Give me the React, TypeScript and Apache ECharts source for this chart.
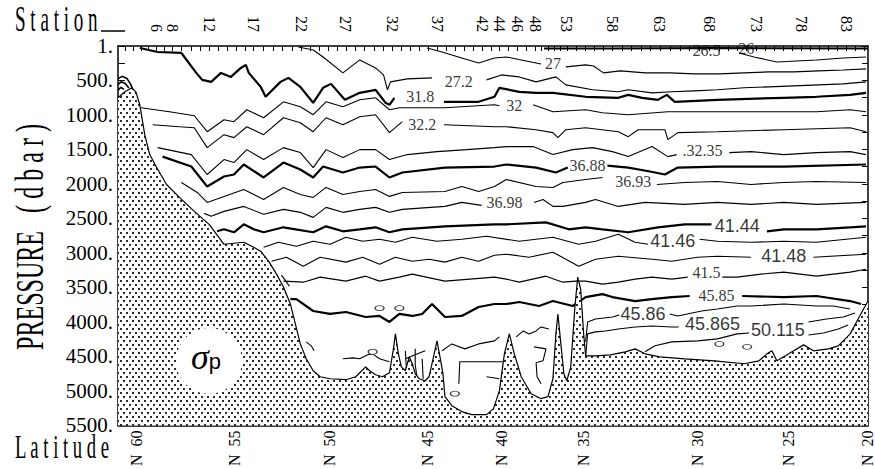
import React, { useEffect, useRef } from "react";
import * as echarts from "echarts";

// ---- axes -------------------------------------------------------------
const stationNums = [6, 8, 12, 17, 22, 27, 32, 37, 42, 44, 46, 48, 53, 58, 63, 68, 73, 78, 83];
const stationDist = [390, 550, 920, 1370, 1850, 2300, 2770, 3220, 3680, 3850, 4030, 4210, 4530, 4990, 5470, 5970, 6440, 6900, 7350];
const latLabels = [60, 55, 50, 45, 40, 35, 30, 25, 20];
const latDist = [190, 1180, 2130, 3120, 3870, 4700, 5850, 6770, 7560];
const distMax = 7570;
const presMax = 5500;
const presStep = 500;

// ---- bottom topography [distance, pressure] ---------------------------
const bathymetry = [
  [0, 751], [70, 664], [140, 606], [180, 664], [220, 852], [270, 1285], [320, 1574], [390, 1762],
  [490, 2007], [620, 2195], [770, 2397], [920, 2585], [1070, 2874], [1170, 2859], [1270, 2845],
  [1370, 2917], [1440, 2975], [1520, 3119], [1600, 3307], [1670, 3494], [1740, 3740], [1790, 4029],
  [1840, 4318], [1900, 4534], [1970, 4707], [2040, 4794], [2140, 4823], [2300, 4837], [2400, 4794],
  [2440, 4736], [2500, 4650], [2540, 4707], [2600, 4765], [2670, 4794], [2740, 4736], [2780, 4390],
  [2800, 4173], [2830, 4462], [2860, 4650], [2900, 4707], [2940, 4505], [2970, 4606], [3000, 4751],
  [3040, 4823], [3100, 4852], [3140, 4794], [3180, 4534], [3220, 4274], [3250, 4505], [3280, 4751],
  [3300, 5083], [3370, 5213], [3470, 5299], [3570, 5343], [3720, 5343], [3790, 5256], [3850, 4996],
  [3900, 4462], [3950, 4173], [4000, 4462], [4070, 4794], [4170, 5040], [4270, 5112], [4340, 5083],
  [4390, 4823], [4420, 4173], [4440, 3884], [4470, 4318], [4500, 4751], [4530, 4852], [4570, 4650],
  [4610, 3812], [4640, 3350], [4670, 3523], [4700, 4173], [4720, 4491], [4820, 4491], [4970, 4476],
  [5120, 4433], [5220, 4390], [5320, 4462], [5470, 4505], [5720, 4534], [6020, 4563], [6320, 4606],
  [6470, 4563], [6550, 4462], [6600, 4418], [6650, 4563], [6720, 4505], [6820, 4418], [6920, 4332],
  [7020, 4418], [7170, 4390], [7270, 4346], [7390, 4173], [7470, 3957], [7570, 3697],
];

// ---- isolines (segments of [distance, pressure]) ----------------------
const c26 = [[[4300, 36], [5000, 36], [6000, 29], [7570, 36]]];
const c265 = [[[6270, 101], [6420, 159], [6650, 231], [7050, 202], [7320, 173], [7550, 159]]];
const c27 = [
  [[3120, 29], [3270, 87], [3470, 173], [3640, 245], [3800, 173], [3920, 159], [4070, 202], [4270, 260]],
  [[4520, 303], [4720, 274], [4800, 289], [4900, 390], [5070, 361], [5320, 390], [5570, 390], [5820, 404],
   [6070, 404], [6320, 390], [6570, 375], [6820, 375], [7070, 361], [7320, 347], [7550, 332]],
];
const c272 = [
  [[1820, 14], [1970, 58], [2070, 159], [2270, 390], [2440, 202], [2600, 318], [2680, 419], [2720, 635],
   [2750, 520], [2920, 477], [3170, 462]],
  [[3720, 491], [3870, 419], [4050, 448], [4220, 520], [4420, 448], [4520, 563], [4790, 635], [5050, 664],
   [5150, 635], [5390, 679], [5590, 664], [5820, 650], [6050, 635], [6320, 606], [6570, 592], [6820, 578],
   [7070, 563], [7320, 549], [7550, 520]],
];
const c318 = [
  [[220, 29], [400, 87], [640, 101], [790, 390], [850, 491], [940, 520], [1040, 390], [1140, 448],
   [1240, 318], [1290, 274], [1320, 390], [1440, 592], [1490, 736], [1640, 520], [1720, 462], [1840, 592],
   [1970, 823], [2070, 606], [2150, 549], [2290, 780], [2440, 679], [2600, 635], [2700, 823], [2740, 852],
   [2790, 751]],
  [[3290, 809], [3640, 809], [3800, 736], [3850, 606], [4050, 664], [4220, 679], [4390, 679], [4720, 736],
   [5050, 751], [5150, 708], [5290, 751], [5450, 780], [5540, 708], [5620, 809], [6050, 780], [6720, 751],
   [7050, 736], [7390, 708], [7550, 679]],
];
const c32 = [
  [[230, 895], [520, 953], [770, 1011], [900, 1242], [1070, 1069], [1170, 1097], [1300, 924], [1470, 1040],
   [1670, 809], [1840, 881], [1970, 996], [2100, 809], [2270, 881], [2440, 780], [2600, 751], [2740, 924],
   [2840, 895], [3300, 895], [3800, 852], [3850, 866]],
  [[4190, 852], [4390, 953], [4720, 924], [4890, 967], [5150, 996], [5550, 953], [6050, 953], [6390, 953],
   [7050, 953], [7390, 924], [7550, 953]],
];
const c322 = [
  [[350, 1141], [620, 1170], [770, 1184], [900, 1473], [1070, 1285], [1170, 1328], [1300, 1170],
   [1470, 1285], [1670, 1040], [1840, 1112], [1970, 1242], [2100, 1040], [2270, 1141], [2440, 1025],
   [2600, 996], [2740, 1256], [2870, 1097]],
  [[3290, 1141], [3800, 1170], [3920, 1170], [4220, 1213], [4390, 1256], [4440, 1328], [4520, 1213],
   [4720, 1184], [5050, 1242], [5150, 1314], [5250, 1213], [5520, 1213], [5550, 1357], [5650, 1256],
   [6050, 1242], [6720, 1213], [7390, 1184], [7550, 1242]],
];
const c3235 = [
  [[400, 1473], [740, 1574], [900, 1863], [1070, 1646], [1170, 1689], [1300, 1502], [1470, 1646],
   [1670, 1473], [1840, 1545], [1970, 1762], [2100, 1502], [2270, 1617], [2440, 1502], [2600, 1502],
   [2740, 1646], [2920, 1574], [3220, 1531], [3520, 1502], [3800, 1473], [3920, 1458], [4190, 1458],
   [4390, 1574], [4590, 1502], [4790, 1473], [4990, 1531], [5150, 1603], [5390, 1458], [5550, 1603],
   [5640, 1574]],
  [[6170, 1545], [6390, 1531], [6720, 1574], [7050, 1545], [7390, 1531], [7550, 1574]],
];
const c3688 = [
  [[450, 1603], [740, 1747], [900, 2036], [1070, 1892], [1170, 1863], [1270, 1718], [1470, 1906],
   [1670, 1689], [1840, 1791], [1970, 1906], [2070, 1747], [2270, 1834], [2440, 1762], [2600, 1747],
   [2740, 1906], [2870, 1834], [3300, 1762], [3800, 1747], [3920, 1718], [4220, 1762], [4420, 1834],
   [4540, 1762]],
  [[4940, 1733], [5150, 1762], [5370, 1819], [5520, 1863], [5650, 1762], [6050, 1747], [6720, 1747],
   [7550, 1718]],
];
const c3693 = [
  [[640, 1978], [800, 2123], [900, 2267], [1070, 2180], [1270, 2079], [1470, 2224], [1670, 2050],
   [1840, 2152], [1970, 2195], [2100, 2050], [2270, 2152], [2440, 2108], [2600, 2079], [2740, 2180],
   [2870, 2123], [3300, 2108], [3470, 2036], [3640, 2108], [3800, 2036], [3920, 1935], [4220, 2036],
   [4390, 2050], [4490, 1978], [4720, 1935], [4890, 1906]],
  [[5440, 2007], [5720, 1978], [6050, 1964], [6390, 2007], [6720, 1978], [7050, 1964], [7550, 1978]],
];
const c3698 = [
  [[870, 2426], [940, 2469], [1070, 2397], [1270, 2325], [1470, 2440], [1670, 2368], [1840, 2411],
   [1970, 2484], [2100, 2339], [2270, 2411], [2440, 2368], [2600, 2339], [2740, 2411], [2870, 2368],
   [3300, 2325], [3470, 2267], [3670, 2310]],
  [[4200, 2267], [4290, 2224], [4390, 2325], [4490, 2325], [4720, 2267], [4820, 2224], [5050, 2325],
   [5320, 2267], [5720, 2296], [6050, 2267], [6390, 2296], [6720, 2267], [7050, 2296], [7550, 2267]],
];
const c4144 = [
  [[1000, 2686], [1070, 2657], [1170, 2700], [1270, 2585], [1370, 2657], [1470, 2700], [1670, 2628],
   [1970, 2700], [2100, 2614], [2270, 2686], [2440, 2657], [2600, 2628], [2740, 2700], [2870, 2657],
   [3300, 2614], [3800, 2585], [3920, 2585], [4320, 2556], [4550, 2657], [4720, 2628], [4890, 2657],
   [5150, 2700], [5450, 2628], [5720, 2585], [5990, 2585]],
  [[6550, 2686], [6720, 2657], [7050, 2657], [7390, 2628], [7550, 2614]],
];
const c4146 = [
  [[1470, 2917], [1620, 2845], [1800, 2902], [1970, 2830], [2140, 2874], [2300, 2772], [2470, 2830],
   [2640, 2801], [2800, 2845], [2970, 2772], [3220, 2830], [3470, 2801], [3720, 2758], [4050, 2830],
   [4390, 2772], [4650, 2874], [4820, 2830], [5050, 2729], [5220, 2845], [5350, 2874]],
  [[5870, 2801], [6050, 2830], [6390, 2845], [6720, 2830], [7050, 2845], [7550, 2772]],
];
const c4148 = [
  [[1550, 3119], [1700, 3061], [1870, 3191], [2040, 3061], [2300, 3133], [2470, 3061], [2640, 3162],
   [2800, 3061], [2970, 3119], [3140, 3090], [3300, 3133], [3470, 3061], [3640, 3119], [3800, 3032],
   [3920, 3018], [4150, 3061], [4390, 2989], [4650, 3191], [4820, 3090], [5050, 3047], [5390, 3090],
   [5590, 3119], [5850, 3061], [6050, 3047], [6390, 3061]],
  [[7020, 3061], [7550, 3018]],
];
const c415 = [
  [[1670, 3408], [1870, 3423], [2040, 3350], [2300, 3408], [2500, 3336], [2640, 3408], [2840, 3350],
   [2970, 3307], [3300, 3408], [3800, 3350], [3920, 3379], [4050, 3423], [4320, 3336], [4490, 3423],
   [4620, 3408], [4720, 3408], [4890, 3451], [5050, 3423], [5220, 3379], [5390, 3350], [5590, 3379],
   [5750, 3350]],
  [[6100, 3350], [6250, 3350], [6490, 3307], [6720, 3278], [7050, 3336], [7390, 3278], [7550, 3235]],
];
const c4585 = [
  [[1740, 3668], [1800, 3668], [1970, 3841], [2140, 3884], [2300, 3856], [2500, 3928], [2640, 3913],
   [2740, 4000], [2840, 3884], [2970, 3913], [3070, 3884], [3170, 3740], [3300, 3928], [3470, 3913],
   [3640, 3783], [3800, 3740], [3920, 3740], [4050, 3711], [4250, 3769], [4390, 3697], [4590, 3769],
   [4720, 3639], [4890, 3596], [4990, 3639], [5220, 3697], [5390, 3668], [5590, 3639], [5770, 3624]],
  [[6300, 3624], [6720, 3639], [7050, 3624], [7390, 3697], [7500, 3740]],
];
const c4586 = [
  [[2270, 4534], [2370, 4520], [2440, 4534], [2520, 4476], [2570, 4462], [2640, 4534], [2740, 4577]],
  [[2900, 4534], [3100, 4418]],
  [[3270, 4418], [3370, 4318], [3500, 4390], [3640, 4318], [3800, 4274], [3850, 4216]],
  [[4020, 4216], [4090, 4130], [4150, 4173], [4220, 4130], [4270, 4072], [4350, 4101]],
  [[4720, 4289], [4740, 4000], [4820, 3957], [4990, 3928], [5060, 3899]],
  [[5570, 3884], [5650, 3913], [5890, 3841], [6050, 3812], [6250, 3769], [6390, 3769], [6720, 3740],
   [7050, 3769], [7220, 3769], [7390, 3812]],
];
const c45865 = [
  [[4720, 4505], [4740, 4173], [4820, 4144], [4920, 4130], [5050, 4101], [5220, 4072], [5390, 4058],
   [5590, 4072], [5660, 4072]],
  [[6970, 4000], [7150, 3957], [7320, 3928], [7440, 3870]],
];
const c50115 = [
  [[5320, 4433], [5420, 4346], [5590, 4289], [5850, 4274], [6050, 4245], [6250, 4173], [6370, 4159]],
  [[6970, 4188], [7120, 4159], [7270, 4101], [7370, 4043]],
];
const cDeep = [
  [[3440, 4895], [3450, 4577], [3620, 4577], [3890, 4577]],
  [[2900, 4418], [2910, 4650], [2890, 4823]],
  [[3000, 4390], [3000, 4621], [3020, 4823]],
  [[3070, 4534], [3080, 4823]],
  [[4200, 4361], [4320, 4390], [4290, 4563], [4220, 4592], [4230, 4794], [4270, 4895]],
  [[3720, 4794], [3850, 4823]],
  [[1650, 3321], [1730, 3480]],
  [[1900, 4289], [1950, 4346], [1980, 4418]],
];
const cShelf = [
  [[0, 476], [40, 440], [90, 470], [130, 560], [150, 640]],
  [[0, 560], [30, 520], [70, 540], [110, 610]],
  [[0, 640], [30, 600], [60, 630]],
];
const closedLoops = [[2570, 4433], [2640, 3800], [2840, 3800], [3400, 5040], [6070, 4318], [6350, 4361]];

// ---- isoline labels: [text, distance, pressure] -----------------------
const serifLabels = [
  ["26.5", 5940, 58], ["26", 6340, 29], ["27", 4390, 260], ["27.2", 3440, 520], ["31.8", 3050, 736],
  ["32", 4000, 866], ["32.2", 3070, 1141], [".32.35", 5900, 1516], ["36.88", 4740, 1733],
  ["36.93", 5200, 1964], ["36.98", 3900, 2267], ["41.5", 5940, 3290], ["45.85", 6040, 3610],
];
const sansLabels = [
  ["41.44", 6250, 2614], ["41.46", 5600, 2830], ["41.48", 6720, 3047], ["45.86", 5300, 3884],
  ["45.865", 6000, 4029], ["50.115", 6660, 4115],
];

const contours = [
  { segs: c26, w: 2 }, { segs: c265, w: 1.1 }, { segs: c27, w: 1.1 }, { segs: c272, w: 1.1 },
  { segs: c318, w: 2.2 }, { segs: c32, w: 1.1 }, { segs: c322, w: 1.1 }, { segs: c3235, w: 1.1 },
  { segs: c3688, w: 2.2 }, { segs: c3693, w: 1.1 }, { segs: c3698, w: 1.1 }, { segs: c4144, w: 2.2 },
  { segs: c4146, w: 1.1 }, { segs: c4148, w: 1.1 }, { segs: c415, w: 1.1 }, { segs: c4585, w: 2.2 },
  { segs: c4586, w: 1.1 }, { segs: c45865, w: 1.1 }, { segs: c50115, w: 1.1 }, { segs: cDeep, w: 1.1 },
  { segs: cShelf, w: 1.6 },
];

const SERIF = '"Liberation Serif", "Times New Roman", serif';
const SANS = '"Liberation Sans", Arial, sans-serif';

function stationTicks(): number[] {
  const out: number[] = [];
  for (let s = 1; s < stationNums[0]; s++) {
    const d = stationDist[0] - (stationNums[0] - s) * 80;
    if (d >= 0) out.push(d);
  }
  for (let i = 0; i < stationNums.length - 1; i++) {
    const n = stationNums[i + 1] - stationNums[i];
    const step = (stationDist[i + 1] - stationDist[i]) / n;
    for (let k = 0; k < n; k++) out.push(stationDist[i] + k * step);
  }
  const last = stationDist[stationDist.length - 1];
  for (let k = 0; k < 3; k++) {
    const d = last + k * 90;
    if (d <= distMax) out.push(d);
  }
  return out;
}

function latTicks(): number[] {
  const out: number[] = [];
  for (let i = 0; i < latDist.length - 1; i++) {
    const n = latLabels[i] - latLabels[i + 1];
    const step = (latDist[i + 1] - latDist[i]) / n;
    for (let k = 0; k < n; k++) out.push(latDist[i] + k * step);
  }
  out.push(latDist[latDist.length - 1]);
  return out.filter((d) => d <= distMax);
}

export default function App() {
  const ref = useRef<HTMLDivElement>(null);
  useEffect(() => {
    if (!ref.current) return;
    const chart = echarts.init(ref.current, undefined, { renderer: "svg" });

    const cv = document.createElement("canvas");
    cv.width = 6;
    cv.height = 8;
    const g = cv.getContext("2d")!;
    g.fillStyle = "#ffffff";
    g.fillRect(0, 0, 6, 8);
    g.fillStyle = "#2a2a2a";
    g.fillRect(0, 0, 2, 2);
    g.fillRect(3, 4, 2, 2);
    const dots = { image: cv.toDataURL(), repeat: "repeat", imageWidth: 6, imageHeight: 8 };

    const lineSeries: any[] = [];
    contours.forEach((c) => {
      c.segs.forEach((seg) => {
        lineSeries.push({
          type: "line",
          data: seg,
          symbol: "none",
          silent: true,
          z: 3,
          lineStyle: { color: "#000", width: c.w },
        });
      });
    });

    const stationLabel = (v: number) => {
      const i = stationDist.findIndex((d) => Math.abs(d - v) < 1);
      return i >= 0 ? String(stationNums[i]) : "";
    };
    const latLabel = (v: number) => {
      const i = latDist.findIndex((d) => Math.abs(d - v) < 1);
      return i >= 0 ? "N  " + latLabels[i] : "";
    };

    const axisLineStyle = { color: "#000", width: 1.5 };

    chart.setOption({
      animation: false,
      backgroundColor: "#fff",
      grid: { left: 118, right: 0, top: 46, bottom: 42, containLabel: false },
      xAxis: [
        {
          type: "value",
          position: "bottom",
          min: 0,
          max: distMax,
          axisLine: { show: true, onZero: false, lineStyle: axisLineStyle },
          axisTick: { show: true, inside: true, length: 6, customValues: latTicks(), lineStyle: { color: "#000" } },
          axisLabel: {
            customValues: latDist,
            formatter: latLabel,
            rotate: 90,
            margin: 5,
            fontFamily: SERIF,
            fontSize: 16,
            color: "#000",
          },
          splitLine: { show: false },
        },
        {
          type: "value",
          position: "top",
          min: 0,
          max: distMax,
          axisLine: { show: true, onZero: false, lineStyle: axisLineStyle },
          axisTick: { show: true, inside: true, length: 5, customValues: stationTicks(), lineStyle: { color: "#000" } },
          axisLabel: {
            customValues: stationDist,
            formatter: stationLabel,
            rotate: 90,
            margin: 14,
            fontFamily: SERIF,
            fontSize: 16,
            color: "#000",
          },
          splitLine: { show: false },
        },
      ],
      yAxis: [
        {
          type: "value",
          position: "left",
          inverse: true,
          min: 0,
          max: presMax,
          interval: presStep,
          axisLine: { show: true, onZero: false, lineStyle: axisLineStyle },
          axisTick: { show: true, inside: true, length: 7, lineStyle: { color: "#000" } },
          minorTick: { show: true, splitNumber: 2, length: 7, lineStyle: { color: "#000" } },
          axisLabel: {
            formatter: (v: number) => (v === 0 ? "1." : `${v}.`),
            fontFamily: SERIF,
            fontSize: 21,
            color: "#000",
            margin: 5,
          },
          splitLine: { show: false },
        },
        {
          type: "value",
          position: "right",
          inverse: true,
          min: 0,
          max: presMax,
          interval: presStep,
          axisLine: { show: true, onZero: false, lineStyle: axisLineStyle },
          axisTick: { show: true, inside: true, length: 6, lineStyle: { color: "#000" } },
          minorTick: { show: true, splitNumber: 2, length: 6, lineStyle: { color: "#000" } },
          axisLabel: { show: false },
          splitLine: { show: false },
        },
      ],
      series: [
        ...lineSeries,
        {
          type: "line",
          data: bathymetry,
          symbol: "none",
          silent: true,
          z: 5,
          lineStyle: { color: "#000", width: 1.2 },
          areaStyle: { color: dots, origin: "end", opacity: 1 },
        },
        {
          type: "scatter",
          data: closedLoops,
          symbol: "circle",
          symbolSize: [9, 5],
          silent: true,
          z: 6,
          itemStyle: { color: "#fff", borderColor: "#000", borderWidth: 1 },
        },
        {
          type: "scatter",
          symbolSize: 0,
          silent: true,
          z: 8,
          data: serifLabels.map((l) => ({ name: l[0], value: [l[1], l[2]] })),
          label: {
            show: true,
            position: "inside",
            formatter: "{b}",
            fontFamily: SERIF,
            fontSize: 16,
            lineHeight: 16,
            color: "#000",
          },
        },
        {
          type: "scatter",
          symbolSize: 0,
          silent: true,
          z: 8,
          data: sansLabels.map((l) => ({ name: l[0], value: [l[1], l[2]] })),
          label: {
            show: true,
            position: "inside",
            formatter: "{b}",
            fontFamily: SANS,
            fontSize: 18,
            color: "#000",
          },
        },
      ],
      graphic: [
        {
          type: "text",
          x: 15,
          y: 1,
          scaleX: 0.53,
          z: 100,
          style: { text: "S t a t i o n", font: `36px ${SERIF}`, fill: "#000", textAlign: "left", textVerticalAlign: "top" },
        },
        {
          type: "line",
          z: 100,
          shape: { x1: 101, y1: 31, x2: 125, y2: 31 },
          style: { stroke: "#000", lineWidth: 1.5 },
        },
        {
          type: "text",
          x: 15,
          y: 430,
          scaleX: 0.565,
          z: 100,
          style: { text: "L a t i t u d e", font: `33px ${SERIF}`, fill: "#000", textAlign: "left", textVerticalAlign: "top" },
        },
        {
          type: "text",
          x: 29,
          y: 237,
          rotation: Math.PI / 2,
          scaleX: 0.587,
          z: 100,
          style: {
            text: "PRESSURE   ( d b a r )",
            font: `41px ${SERIF}`,
            fill: "#000",
            textAlign: "center",
            textVerticalAlign: "middle",
          },
        },
        {
          type: "circle",
          z: 100,
          silent: true,
          shape: { cx: 209, cy: 361, r: 33 },
          style: { fill: "#fff", stroke: null },
        },
        {
          type: "text",
          x: 206,
          y: 357,
          z: 101,
          style: {
            text: "{s|σ}{p|p}",
            textAlign: "center",
            textVerticalAlign: "middle",
            rich: {
              s: { fontFamily: SERIF, fontSize: 36, fontStyle: "italic", fill: "#000", color: "#000" },
              p: { fontFamily: SANS, fontSize: 22, fill: "#000", color: "#000", padding: [8, 0, 0, 0] },
            },
          },
        },
      ],
    });
    return () => chart.dispose();
  }, []);

  return (
    <div
      ref={ref}
      style={{ position: "absolute", left: 0, top: 0, width: 875, height: 469, background: "#fff" }}
    />
  );
}
